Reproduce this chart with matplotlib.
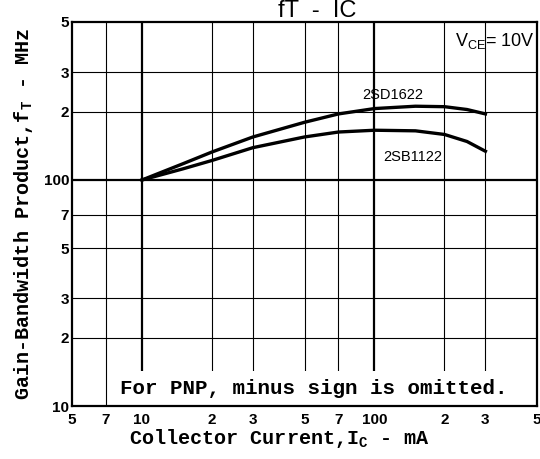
import numpy as np
import matplotlib
matplotlib.use('Agg')
import matplotlib.pyplot as plt
from matplotlib.patches import Rectangle

# values
ic_ma = [10, 15, 20, 30, 50, 70, 100, 150, 200, 250, 300]
ft_2sd1622 = [100, 118, 133, 155, 180, 196, 207, 212, 211, 205, 196]
ft_2sb1122 = [100, 112, 122, 139, 155, 163, 166, 165, 159, 148, 134]

x_ticks = [5, 7, 10, 20, 30, 50, 70, 100, 200, 300, 500]
x_labels = ['5', '7', '10', '2', '3', '5', '7', '100', '2', '3', '5']
y_ticks = [10, 20, 30, 50, 70, 100, 200, 300, 500]
y_labels = ['10', '2', '3', '5', '7', '100', '2', '3', '5']

mono = 'Liberation Mono'
sans = 'Liberation Sans'

fig = plt.figure(figsize=(5.4, 4.59), dpi=100)
ax = fig.add_axes([72 / 540, 53 / 459, 465 / 540, 384 / 459])
ax.set_xscale('log')
ax.set_yscale('log')
ax.set_xlim(5, 500)
ax.set_ylim(10, 500)

# grid
for xv in x_ticks[1:-1]:
    ax.axvline(xv, color='black', lw=1.6 if xv in (10, 100) else 0.8, zorder=1)
for yv in y_ticks[1:-1]:
    ax.axhline(yv, color='black', lw=1.6 if yv == 100 else 0.8, zorder=1)

ax.plot(ic_ma, ft_2sd1622, color='black', lw=2.4, zorder=3)
ax.plot(ic_ma, ft_2sb1122, color='black', lw=2.4, zorder=3)

ax.set_xticks(x_ticks)
ax.set_xticklabels(x_labels)
ax.set_yticks(y_ticks)
ax.set_yticklabels(y_labels)
ax.minorticks_off()
ax.tick_params(axis='y', length=0, pad=2)
ax.tick_params(axis='x', length=0, pad=5)
for t in ax.get_xticklabels() + ax.get_yticklabels():
    t.set_family(sans)
    t.set_fontweight('bold')
    t.set_fontsize(11)
for s in ax.spines.values():
    s.set_linewidth(1.6)

ax.set_xlabel(r'Collector Current,I$_\mathregular{C}$ - mA', family=mono,
              fontweight='bold', fontsize=14.5)
ax.xaxis.set_label_coords(208 / 465, -0.055)
ax.set_ylabel(r'Gain-Bandwidth Product,f$_\mathregular{T}$ - MHz', family=mono,
              fontweight='bold', fontsize=14.5, labelpad=6)

# note box at the bottom
ax.add_patch(Rectangle((7.6, 10.05), 500, 4.3, facecolor='white',
                       edgecolor='none', zorder=2))
ax.text(372, 12.0, 'For PNP, minus sign is omitted.', family=mono,
        fontweight='bold', fontsize=15, ha='right', va='center', zorder=4)

ax.text(490, 455, r'V$_\mathregular{CE}$= 10V', family=sans, fontsize=13,
        ha='right', va='top', zorder=4)
ax.text(120, 238, '2SD1622', family=sans, fontsize=10.5, ha='center',
        va='center', zorder=4)
ax.text(146, 127, '2SB1122', family=sans, fontsize=10.5, ha='center',
        va='center', zorder=4)

fig.text(317 / 540, 1 - 17 / 459, 'fT  -  IC', family=sans, fontsize=17,
         ha='center', va='baseline')

fig.savefig('out.png', dpi=100, facecolor='white')
